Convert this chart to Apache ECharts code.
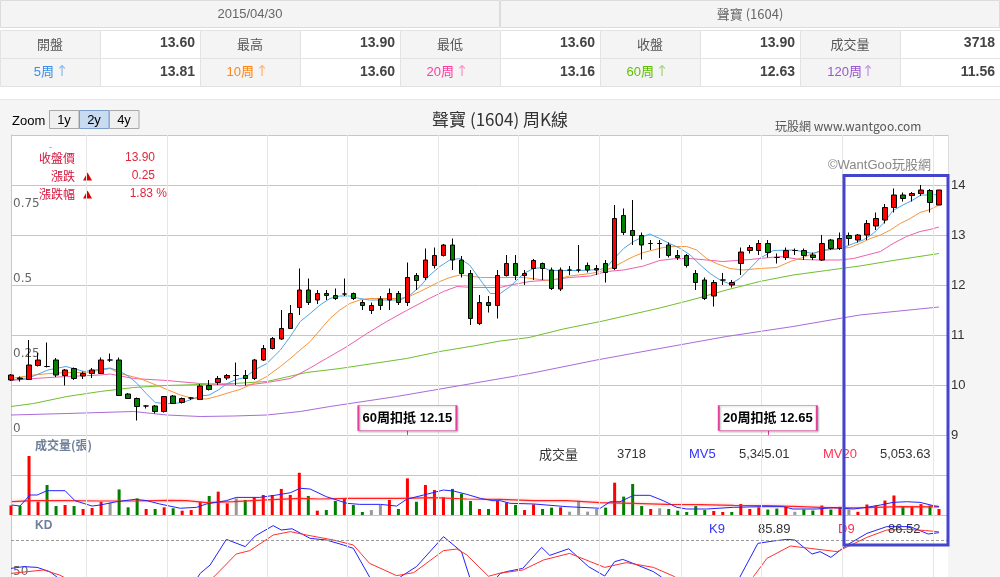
<!DOCTYPE html>
<html><head><meta charset="utf-8">
<script src="https://cdn.jsdelivr.net/npm/echarts@6/dist/echarts.min.js"></script>
<style>html,body{margin:0;padding:0;background:#fff;overflow:hidden;}#c{width:1000px;height:640px;}</style>
</head><body><div id="c"></div>
<script>
// ---------------- DATA ----------------
const lastWeek = '2015/04/30';
const nWeeks = 104;
const open = [10.10,10.14,10.11,10.39,10.37,10.50,10.19,10.33,10.18,10.23,
10.23,10.50,10.50,9.82,9.73,9.58,9.58,9.47,9.78,9.65,
9.74,9.71,9.99,10.05,10.14,10.19,10.19,10.13,10.50,10.73,
10.92,11.13,11.55,11.90,11.70,11.83,11.79,11.82,11.83,11.65,
11.49,11.72,11.70,11.83,11.65,12.19,12.15,12.39,12.59,12.80,
12.50,12.23,11.23,11.65,11.59,12.19,12.43,12.19,12.33,12.43,
12.30,11.92,12.30,12.30,12.39,12.33,12.43,12.33,13.39,13.09,
12.99,12.83,12.83,12.80,12.59,12.59,12.23,12.10,11.78,12.10,
12.00,12.43,12.69,12.69,12.83,12.55,12.55,12.69,12.69,12.60,
12.50,12.90,12.73,12.99,12.90,13.00,13.18,13.30,13.55,13.80,
13.79,13.83,13.89,13.60];
const close = [10.20,10.12,10.40,10.50,10.37,10.20,10.30,10.13,10.23,10.30,
10.50,10.50,9.79,9.73,9.57,9.58,9.47,9.77,9.63,9.73,
9.74,9.98,9.91,10.13,10.19,10.19,10.13,10.50,10.73,10.93,
11.13,11.43,11.90,11.65,11.83,11.79,11.73,11.82,11.73,11.59,
11.59,11.59,11.83,11.65,12.15,12.09,12.50,12.59,12.80,12.50,
12.23,11.33,11.65,11.59,12.19,12.43,12.19,12.23,12.49,12.33,
11.93,12.30,12.30,12.30,12.30,12.30,12.25,13.33,13.05,12.99,
12.80,12.83,12.83,12.59,12.55,12.39,12.05,11.73,12.05,12.10,
12.05,12.66,12.75,12.83,12.65,12.55,12.69,12.69,12.59,12.55,
12.83,12.73,12.93,12.93,13.00,13.23,13.33,13.55,13.80,13.73,
13.83,13.90,13.65,13.90];
const low = [10.08,10.07,10.10,10.37,10.35,10.16,9.99,10.10,10.12,10.14,
10.22,10.46,9.78,9.72,9.29,9.53,9.43,9.45,9.62,9.63,
9.70,9.70,9.89,10.00,10.10,10.00,9.99,10.10,10.48,10.71,
10.90,11.12,11.40,11.60,11.62,11.70,11.70,11.78,11.70,11.50,
11.42,11.50,11.50,11.60,11.58,11.90,12.10,12.33,12.57,12.30,
12.15,11.20,11.20,11.45,11.33,12.17,12.10,12.00,12.10,12.10,
11.90,11.88,12.20,12.25,12.25,12.20,12.05,12.30,13.00,12.80,
12.51,12.70,12.54,12.55,12.50,12.35,11.90,11.70,11.57,12.00,
11.95,12.20,12.63,12.60,12.55,12.43,12.50,12.60,12.50,12.50,
12.48,12.70,12.70,12.80,12.85,12.90,13.10,13.23,13.45,13.67,
13.67,13.78,13.45,13.60];
const high = [10.22,10.17,10.90,10.64,10.85,10.54,10.32,10.35,10.27,10.34,
10.55,10.63,10.55,9.84,9.75,9.60,9.60,9.78,9.80,9.75,
9.76,10.02,10.10,10.18,10.22,10.45,10.30,10.52,10.80,10.96,
11.50,11.60,12.33,12.13,11.90,11.90,11.93,12.13,11.85,11.70,
11.65,11.78,11.93,11.88,12.45,12.24,12.73,12.75,12.82,12.93,
12.58,12.30,11.80,11.78,12.30,12.60,12.60,12.30,12.52,12.45,
12.35,12.35,12.38,12.80,12.45,12.40,12.50,13.60,13.53,13.70,
13.05,12.90,12.90,12.85,12.70,12.62,12.30,12.15,12.10,12.24,
12.10,12.75,12.80,12.90,12.90,12.63,12.75,12.73,12.73,12.65,
13.00,12.92,13.05,13.05,13.02,13.30,13.45,13.62,13.93,13.85,
13.86,14.00,13.92,13.90];
const volume = [6000,5600,36900,8300,18750,5600,6250,5600,3750,4400,
8300,7700,16000,4800,10400,3750,3750,4800,4200,2700,
3100,8300,11900,14600,7300,10400,9400,11000,12500,12500,
16300,12500,26400,11900,2700,3100,8750,10400,6250,1900,
3100,6250,9400,3750,22900,8300,18750,15600,11000,16300,
13300,8750,3750,3750,8750,7700,6250,3100,6650,3750,
4600,4800,2100,8900,2100,3750,4600,20200,11500,19400,
5600,3750,4200,3750,2700,1900,5600,3100,2500,1900,
1900,6900,3750,4800,3400,4000,5100,2000,3400,2800,
5900,3400,5100,3400,2000,6550,5900,9050,12200,5000,
5200,6800,6000,3718];
// moving averages: [week index, value]
const ma5Pts = [[0,10.10],[2.1,10.15],[4.1,10.30],[6.1,10.37],[8.1,10.27],[11,10.34],[12,10.28],[13,10.18],[14,10.03],[15,9.83],[16,9.65],[17,9.63],[18,9.63],[19,9.65],[20,9.71],[21,9.78],[22,9.80],[23,9.90],[24,10.03],[25,10.11],[26,10.15],[27,10.30],[28.4,10.43],[29.9,10.70],[31,10.97],[32.1,11.27],[33.2,11.43],[34.3,11.60],[35.4,11.73],[36.5,11.78],[37.6,11.78],[38.7,11.73],[39.8,11.70],[43.2,11.70],[44.3,11.80],[45.4,11.97],[46.5,12.20],[47.6,12.37],[48.7,12.50],[49.8,12.53],[50.9,12.40],[52.1,12.10],[53.2,11.83],[54.3,11.83],[55.4,11.97],[56.9,12.23],[58,12.33],[59.1,12.35],[59.8,12.29],[63.2,12.29],[65.4,12.31],[66.1,12.35],[66.8,12.50],[68,12.73],[69.1,12.87],[70.2,12.97],[70.9,13.02],[72,12.93],[73.1,12.83],[74.3,12.73],[75.4,12.60],[76.5,12.40],[77.6,12.23],[78.7,12.10],[79.8,12.02],[80.9,12.13],[82,12.33],[83.1,12.53],[84.6,12.69],[86.8,12.70],[87.9,12.67],[89,12.63],[90.1,12.70],[91.3,12.71],[92.4,12.75],[93.5,12.83],[94.6,12.90],[95.7,13.03],[96.8,13.23],[97.9,13.49],[99,13.60],[100.1,13.70],[101,13.80],[102,13.80],[103,13.81]];
const ma10Pts = [[0,10.13],[2.5,10.20],[4.3,10.23],[6.2,10.25],[8.4,10.25],[11,10.33],[12.1,10.23],[14.3,10.13],[16.5,9.97],[18.8,9.80],[20.2,9.73],[21.7,9.72],[22.8,9.77],[24.6,9.87],[25.4,9.91],[26.9,10.03],[28.4,10.17],[29.9,10.37],[31,10.53],[32.1,10.70],[33.2,10.87],[34.3,11.10],[35.4,11.33],[36.5,11.50],[37.6,11.63],[38.7,11.70],[39.8,11.73],[43.2,11.73],[44.3,11.78],[45.4,11.87],[46.5,11.97],[47.6,12.07],[48.7,12.15],[49.8,12.20],[50.9,12.18],[52.1,12.15],[56.9,12.15],[58.7,12.11],[59.8,12.09],[60.9,12.13],[62,12.18],[64.3,12.23],[65.4,12.27],[66.8,12.35],[68,12.47],[69.1,12.57],[70.2,12.65],[71.3,12.70],[72.4,12.75],[73.5,12.77],[75,12.77],[76.1,12.70],[77.2,12.53],[78.3,12.43],[79.8,12.33],[81.3,12.30],[83.1,12.33],[85,12.35],[86.5,12.47],[87.9,12.55],[89,12.63],[90.5,12.70],[92,12.73],[93.1,12.75],[94.2,12.83],[95.4,12.93],[96.5,13.00],[97.6,13.10],[98.7,13.23],[99.8,13.33],[100.9,13.45],[102,13.51],[103,13.60]];
const ma20Pts = [[0,10.09],[2.5,10.13],[6.2,10.17],[9.9,10.20],[11,10.22],[13.6,10.13],[17.3,10.09],[21,10.03],[24.7,10.00],[25.4,9.98],[28.4,10.05],[31,10.13],[32.8,10.30],[35,10.53],[37.3,10.77],[39.5,11.03],[41.7,11.27],[43.9,11.49],[46.1,11.70],[48,11.87],[49.5,11.97],[51.3,11.95],[54.3,11.95],[55.4,12.00],[57.6,12.07],[59.8,12.10],[62,12.15],[64.3,12.18],[66.1,12.27],[68,12.30],[70.2,12.38],[72,12.49],[73.9,12.53],[75.4,12.53],[77.2,12.50],[79,12.47],[82,12.51],[83.1,12.53],[85.4,12.57],[87.6,12.51],[89.8,12.50],[92,12.50],[93.5,12.53],[95,12.60],[96.5,12.67],[97.9,12.83],[99.4,12.97],[100.9,13.07],[102,13.11],[103,13.16]];
const ma60Pts = [[0,9.57],[2.5,9.63],[6.2,9.77],[9.9,9.87],[13.6,9.95],[17.3,9.99],[21,10.01],[24.7,10.03],[28.4,10.07],[32.8,10.25],[36.5,10.33],[40.2,10.43],[43.9,10.53],[47.6,10.67],[51.3,10.78],[54.3,10.88],[57.5,10.95],[61.3,11.12],[65.7,11.28],[72,11.54],[75.7,11.71],[79.4,11.90],[83.1,12.07],[86.8,12.20],[90.5,12.29],[94.2,12.38],[97.9,12.49],[103,12.63]];
const ma120Pts = [[0,9.40],[6.2,9.43],[13.6,9.47],[17.3,9.40],[21,9.37],[24.7,9.38],[28.4,9.40],[32.1,9.47],[35.4,9.57],[42.8,9.77],[50.2,10.00],[57.6,10.23],[65,10.50],[72,10.73],[79.4,10.97],[86.8,11.17],[94.2,11.40],[103,11.56]];
const mv5Pts = [[0.1,6250],[1,5600],[2.1,12500],[2.9,12500],[4,15200],[6,15200],[7.1,8950],[9,5600],[9.9,6250],[11.7,8300],[13.8,9800],[15.1,8950],[16.5,6900],[18.8,4200],[20.6,4800],[21.7,6900],[23.9,8950],[25,11000],[27.6,11000],[29.5,12500],[31,13900],[32.1,16700],[33.2,16250],[35,11450],[37.3,7300],[38.7,6650],[41,6650],[42.8,5600],[43.9,9800],[45.8,12500],[48,15600],[49.1,15000],[50.6,12900],[52.1,10400],[53.5,8950],[54.3,8950],[55.4,7300],[58,6900],[61.7,5200],[65.4,4200],[66.5,8300],[67.6,8300],[69.1,12300],[70.9,12300],[72.4,8950],[73.9,4800],[75,3750],[77.2,3750],[80.2,4800],[83.1,5200],[85.7,5200],[86.8,3750],[89.4,3750],[91.3,4600],[93.5,3750],[95,4800],[96.5,6250],[97.9,7900],[99.4,8300],[100.9,7900],[102.4,5800],[103,5345]];
const mv20Pts = [[0.1,8300],[2.5,8950],[6.2,8950],[9.9,8750],[13.6,8750],[17.3,9150],[19.5,8950],[21.7,7700],[24.7,8300],[28.4,9400],[32.1,10400],[34.3,10000],[37.3,10400],[43.2,10400],[46.9,10800],[50.6,10000],[54.3,9800],[58,8950],[61.7,8950],[65.4,7700],[69.1,7300],[72.8,6650],[76.5,6450],[80.2,6000],[83.9,5800],[87.6,5200],[91.3,4400],[95,4600],[98.7,5200],[103,5054]];
const kPts = [[0,57.3],[1.4,58.7],[2.9,58.1],[4.3,54.7],[5.1,50.4],[7,38],[9,28],[11,24],[13,18],[15,12],[17,14],[19,28],[20,42],[21,53.3],[22.1,60],[23.9,80.5],[26,74.7],[27.1,83.2],[29.1,91.5],[30,88],[31.2,89],[33.2,81.3],[35,80],[36.9,76],[38,73.3],[39.8,50.4],[41,36],[42,40],[43.2,50.4],[45,58.7],[48,82.7],[50,70.7],[50.9,50.4],[52,36],[53,42],[54.3,53.3],[55,54.7],[56.8,57.3],[58.9,74.1],[59.8,67.7],[61.9,73],[64.1,58.7],[65.9,51.2],[67,62.7],[67.9,64.5],[69.5,60],[71.3,54.7],[72.2,50.4],[74,32],[76,18],[78,14],[80,32],[80.9,50.4],[82.9,77.3],[84.6,79.2],[86.1,80.5],[87,80],[88.9,68.8],[89.8,70.7],[91,66.1],[92.8,76],[95,85.3],[97.2,90.7],[99.8,90.7],[101.8,84.8],[103,85.89]];
const dPts = [[0,53.3],[3.6,56],[5.4,52],[8,42],[11,33],[14,25],[17,20],[19,25],[21,40],[22.5,50.4],[25,68.8],[26.5,71.5],[29.1,84],[31,86.7],[32.8,84],[35.8,80],[38,76],[39.8,61.3],[42.8,51.5],[44.7,53.9],[48,71.5],[49.5,72.8],[50.6,68],[53,51],[54.3,53.5],[56.8,56],[59.1,64],[62,69.3],[65.9,58.1],[68.3,61.9],[71.3,58.1],[73.5,51.2],[76,40],[78,30],[80,27],[81.5,38],[82.4,50.7],[83.9,65.3],[86.5,75.2],[88.7,73.3],[91.7,70.7],[95,82.1],[97.2,88],[99.4,88.5],[101.5,87.6],[103,86.52]];
// month boundaries (in week units) for vertical grid lines
const monthTicks = [8.35,17.35,28.4,37.3,47.4,56.35,65.3,74.4,83.3,92.3,102.4];
const priceTicks = [9,10,11,12,13,14,15];
const kouDiIdx = [44, 84];
const kouDiText = ['60周扣抵 12.15','20周扣抵 12.65'];
const tableRow1 = ['開盤','13.60','最高','13.90','最低','13.60','收盤','13.90','成交量','3718'];
const maLabels = ['5周','10周','20周','60周','120周'];
const maLast = ['13.81','13.60','13.16','12.63','11.56'];
const volInfo = ['成交量','3718','MV5','5,345.01','MV20','5,053.63'];
const kdInfo = ['K9','85.89','D9','86.52'];

// ---------------- derived ----------------
const categories = (function(){
  const p = lastWeek.split('/').map(Number); const t = Date.UTC(p[0],p[1]-1,p[2]); const out=[];
  for (let i=0;i<=nWeeks;i++){ const d=new Date(t-(nWeeks-1-i)*7*864e5);
    out.push(d.getUTCFullYear()+'/'+String(d.getUTCMonth()+1).padStart(2,'0')+'/'+String(d.getUTCDate()).padStart(2,'0')); }
  return out; })();
const candles = open.map((o,i)=>[o, close[i], low[i], high[i]]);
const volData = volume.map((v,i)=>{
  const prev = i===0 ? open[0] : close[i-1];
  const c = close[i] > prev ? '#ff0000' : (close[i] < prev ? '#008000' : '#999999');
  return {value: v, itemStyle: {color: c}};
});

// ---------------- styling ----------------
const LAT = '"Liberation Sans","Noto Sans CJK TC",sans-serif';
const CJK = '"Noto Sans CJK TC","Liberation Sans",sans-serif';
const maColors = ['#4ea6e6','#f5943a','#ee5fae','#6fbf2e','#a96bd9'];
const maText = ['#3a8ee6','#ff8512','#ff3aa0','#5cc200','#9b55d0'];
const maArrow = ['#8fbdf0','#ffb57a','#ff94c8','#a8d878','#c29be6'];

const G = [];
function R(x,y,w,h,fill,stroke,z){ G.push({type:'rect',silent:true,z:z||1,shape:{x:x,y:y,width:w,height:h},style:{fill:fill,stroke:stroke||null,lineWidth:1}}); }
function T(x,y,t,o){ o=o||{}; G.push({type:'text',silent:true,z:o.z||5,x:x,y:y,style:{text:t,fill:o.color||'#333',font:o.font||('12px '+LAT),textAlign:o.align||'left',align:o.align||'left',textVerticalAlign:'middle',verticalAlign:'middle'}}); }
function TRI(cx,by,col){ G.push({type:'polygon',silent:true,z:5,shape:{points:[[cx-4.5,by],[cx+4.5,by],[cx,by-8]]},style:{fill:col}}); }

// top table
R(0,0,1000,99,'#ffffff',null,0);
R(0.5,0.5,499,27,'#f4f4f4','#dcdcdc');
R(500.5,0.5,499,27,'#f4f4f4','#dcdcdc');
T(250,14,lastWeek,{align:'center',color:'#666',font:'13px '+LAT});
T(750,14,'聲寶 (1604)',{align:'center',color:'#666',font:'13px '+CJK});
for (let c=0;c<10;c++){
  const fill = c%2===0 ? '#f4f4f4' : '#ffffff';
  R(c*100+0.5,30.5,100,28,fill,'#e2e2e2');
  R(c*100+0.5,58.5,100,28,fill,'#e2e2e2');
}
for (let j=0;j<5;j++){
  T(j*200+50,44,tableRow1[2*j],{align:'center',color:'#555',font:'13px '+CJK});
  T(j*200+195,43,tableRow1[2*j+1],{align:'right',color:'#444',font:'bold 14px '+LAT});
  T(j*200+(j===4?62:54),72,maLabels[j],{align:'right',color:maText[j],font:'13px '+LAT});
  T(j*200+(j===4?68:62),72,'↑',{align:'center',color:maArrow[j],font:'15px "DejaVu Sans",sans-serif'});
  T(j*200+195,72,maLast[j],{align:'right',color:'#444',font:'bold 14px '+LAT});
}
R(0,99,1000,1,'#e6e6e6',null,1);
// zoom buttons & titles
T(12,121,'Zoom',{color:'#000',font:'13px '+LAT});
R(49.5,110.5,29.5,18,'#f0f0f0','#a8a8a8');
R(79.5,110.5,29.5,18,'#c8dbf1','#7d9ec8');
R(109.5,110.5,29.5,18,'#f0f0f0','#a8a8a8');
T(64,120,'1y',{align:'center',color:'#000',font:'13px '+LAT});
T(94,120,'2y',{align:'center',color:'#000',font:'13px '+LAT});
T(124,120,'4y',{align:'center',color:'#000',font:'13px '+LAT});
T(500,120,'聲寶 (1604) 周K線',{align:'center',color:'#333',font:'17px '+CJK});
T(775,126,'玩股網 www.wantgoo.com',{color:'#555',font:'12px '+CJK});
T(828,165,'©WantGoo玩股網',{color:'#888',font:'13px '+LAT,z:6});
// left info
T(49,148,'-',{color:'#888',font:'9px '+LAT});
T(75,158,'收盤價',{align:'right',color:'#d4143c',font:'12px '+CJK});
T(155,158,'13.90',{align:'right',color:'#e0263c',font:'12px '+LAT});
T(75,176,'漲跌',{align:'right',color:'#d4143c',font:'12px '+CJK});
TRI(87.5,180.5,'#e00000');
T(155,176,'0.25',{align:'right',color:'#e0263c',font:'12px '+LAT});
T(75,194,'漲跌幅',{align:'right',color:'#d4143c',font:'12px '+CJK});
TRI(87.5,198.5,'#e00000');
T(167,194,'1.83 %',{align:'right',color:'#e0263c',font:'12px '+LAT});
// volume & KD panel labels
T(35,445,'成交量(張)',{color:'#6d7f99',font:'bold 12px '+CJK});
T(35,526,'KD',{color:'#6d7f99',font:'bold 12px '+LAT});
const volX = [539,617,689,739,823,880];
const volC = ['#333','#333','#3333ff','#333','#ff3355','#333'];
volInfo.forEach((t,i)=>T(volX[i],454,t,{color:volC[i],font:'13px '+(i===0?CJK:LAT)}));
const kdX = [709,758,838,888];
const kdC = ['#3333ff','#333','#ff3355','#333'];
kdInfo.forEach((t,i)=>T(kdX[i],529,t,{color:kdC[i],font:'13px '+LAT}));
// highlight frame
G.push({type:'rect',silent:true,z:100,shape:{x:844,y:175.5,width:104,height:369.5},style:{fill:null,stroke:'#4444cc',lineWidth:3}});

// ---------------- chart ----------------
const chart = echarts.init(document.getElementById('c'));
const L = 11, W = 937;
const hidX = (gi)=>({type:'value',gridIndex:gi,min:0,max:nWeeks,show:false});
const catX = (gi)=>({type:'category',gridIndex:gi,data:categories,boundaryGap:false,axisLine:{show:false},axisTick:{show:false},axisLabel:{show:false},splitLine:{show:false}});
const lineS = (name,data,xi,yi,color,w)=>({name:name,type:'line',data:data,xAxisIndex:xi,yAxisIndex:yi,symbol:'none',showSymbol:false,silent:true,clip:true,z:3,lineStyle:{color:color,width:w||1},itemStyle:{color:color}});

chart.setOption({
  animation:false,
  backgroundColor:'#f5f5f5',
  textStyle:{fontFamily:LAT},
  graphic:{elements:G},
  grid:[
    {left:L,top:135,width:W,height:300,show:true,backgroundColor:'#fff',borderWidth:0},
    {left:L,top:435,width:W,height:80,show:true,backgroundColor:'#fff',borderWidth:0},
    {left:L,top:515,width:W,height:125,show:true,backgroundColor:'#fff',borderWidth:0},
    {left:L,top:135,width:W,height:505,show:false}
  ],
  xAxis:[catX(0),hidX(0),catX(1),hidX(1),hidX(2),hidX(3)],
  yAxis:[
    {type:'value',gridIndex:0,position:'left',min:0,max:1,interval:0.25,
     axisLine:{show:true,lineStyle:{color:'#c8c8c8'}},axisTick:{show:false},splitLine:{show:false},
     axisLabel:{inside:true,margin:2,verticalAlign:'bottom',color:'#666',fontSize:12,fontFamily:'"DejaVu Sans",sans-serif',
       formatter:v=>v===1?'':String(v)}},
    {type:'value',gridIndex:0,position:'right',min:priceTicks[0],max:priceTicks[priceTicks.length-1],interval:1,
     axisLine:{show:true,lineStyle:{color:'#dddddd'}},axisTick:{show:false},
     splitLine:{show:true,lineStyle:{color:'#c6c6c6',width:1}},
     axisLabel:{margin:3,color:'#333',fontSize:13,fontFamily:LAT,formatter:v=>v===15?'':String(v)}},
    {type:'value',gridIndex:1,min:0,max:50000,interval:25000,
     axisLine:{show:true,lineStyle:{color:'#c8c8c8'}},axisTick:{show:false},axisLabel:{show:false},
     splitLine:{show:true,lineStyle:{color:'#c6c6c6'}}},
    {type:'value',gridIndex:2,min:0,max:100,interval:50,
     axisLine:{show:true,lineStyle:{color:'#c8c8c8'}},axisTick:{show:false},splitLine:{show:false},
     axisLabel:{inside:true,margin:2,verticalAlign:'bottom',color:'#666',fontSize:12,fontFamily:'"DejaVu Sans",sans-serif',
       formatter:v=>v===50?'50':''}},
    {type:'value',gridIndex:3,min:0,max:1,show:false}
  ],
  series:[
    {type:'line',xAxisIndex:5,yAxisIndex:4,data:[[0,0]],symbol:'none',silent:true,z:1,lineStyle:{opacity:0},
     markLine:{silent:true,symbol:['none','none'],label:{show:false},animation:false,
       lineStyle:{color:'#e6e6e6',type:'solid',width:1},data:monthTicks.map(v=>({xAxis:v}))}},
    {type:'candlestick',xAxisIndex:0,yAxisIndex:1,data:candles,barWidth:5,clip:true,silent:true,z:4,
     itemStyle:{color:'#ff0000',color0:'#008000',borderColor:'#000',borderColor0:'#000',borderColorDoji:'#000',borderWidth:1},
     markPoint:{silent:true,symbol:'rect',symbolSize:[98,25],animation:false,
       itemStyle:{color:'#fff',borderColor:'#e2409a',borderWidth:1,shadowColor:'rgba(0,0,0,0.25)',shadowBlur:2,shadowOffsetX:1,shadowOffsetY:1},
       label:{show:true,position:'inside',color:'#000',fontWeight:'bold',fontSize:13,fontFamily:LAT,formatter:p=>p.name},
       data:kouDiIdx.map((k,i)=>({name:kouDiText[i],coord:[k,9.34]}))},
     markLine:{silent:true,symbol:['none','none'],label:{show:false},animation:false,lineStyle:{color:'#e2409a',type:'solid',width:1},
       data:kouDiIdx.map(k=>[{coord:[k,9.08]},{coord:[k,9.0]}])}},
    lineS('MA120',ma120Pts,1,1,maColors[4]),
    lineS('MA60',ma60Pts,1,1,maColors[3]),
    lineS('MA20',ma20Pts,1,1,maColors[2]),
    lineS('MA10',ma10Pts,1,1,maColors[1]),
    lineS('MA5',ma5Pts,1,1,maColors[0]),
    {type:'bar',xAxisIndex:2,yAxisIndex:2,data:volData,barWidth:3,silent:true,z:3},
    Object.assign(lineS('MV20',mv20Pts,3,2,'#ff2020',1.2),{lineStyle:{color:'#ff2020',width:1.2,shadowColor:'rgba(255,80,80,0.5)',shadowBlur:3}}),
    lineS('MV5',mv5Pts,3,2,'#2222ff',1),
    Object.assign(lineS('K',kPts,4,3,'#2222ff',1),{markLine:{silent:true,symbol:['none','none'],label:{show:false},animation:false,
       lineStyle:{color:'#9a9a9a',type:[3,2],width:1},data:[{yAxis:80},{yAxis:50},{yAxis:20}]}}),
    lineS('D',dPts,4,3,'#ff3030',1)
  ]
});
</script></body></html>
